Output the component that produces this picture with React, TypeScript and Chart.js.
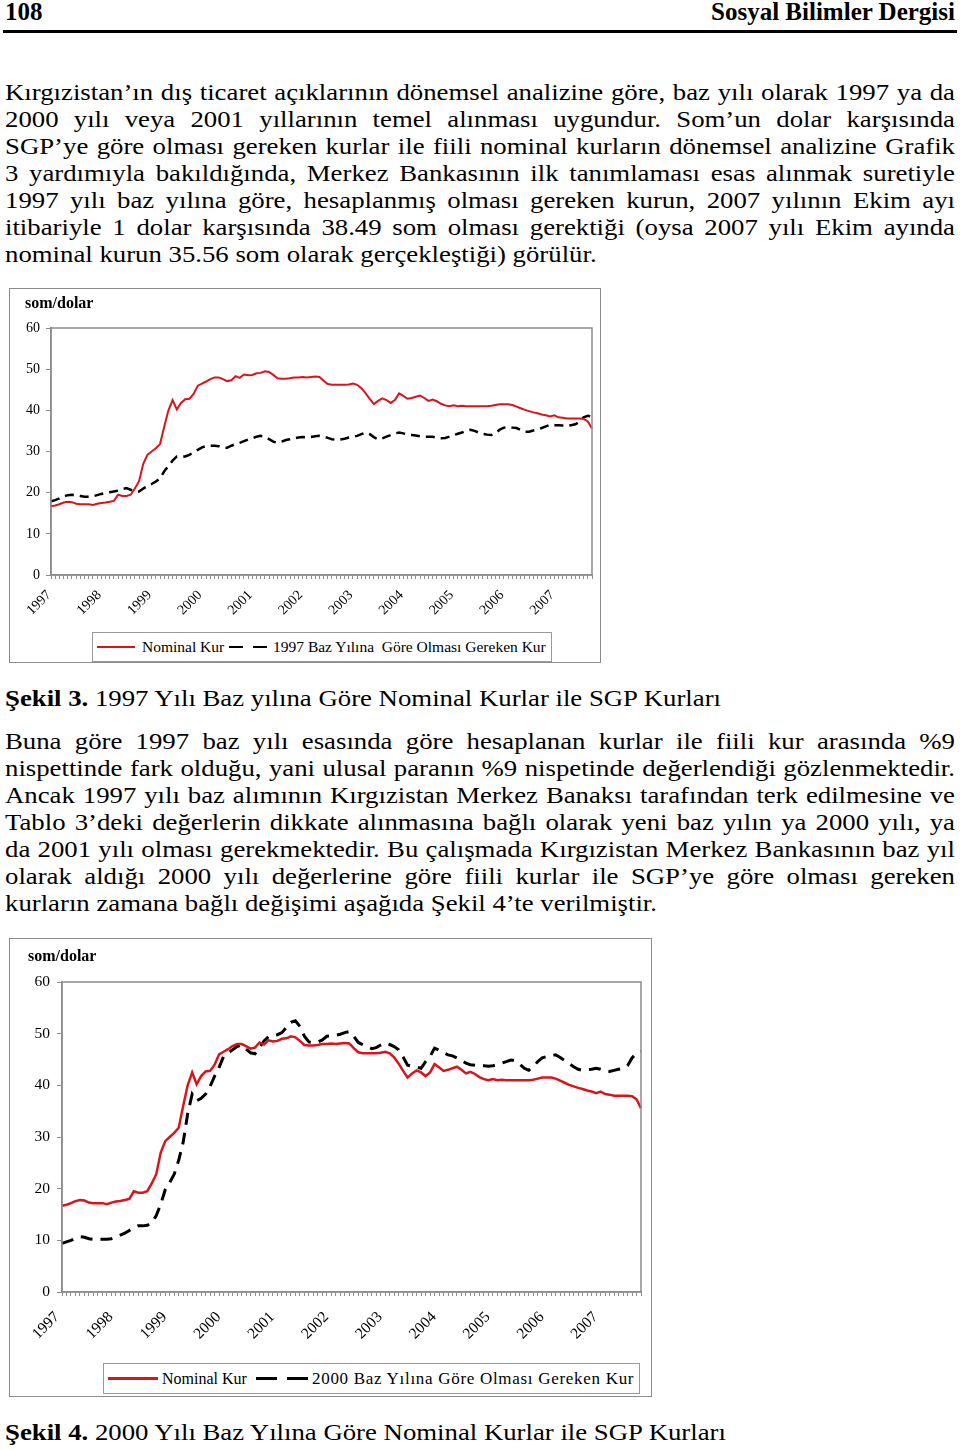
import React, { useEffect, useRef } from 'react';
import { Chart, registerables } from 'chart.js';

Chart.register(...registerables);

// ---------- data ----------
const YEARS = ['1997', '1998', '1999', '2000', '2001', '2002', '2003', '2004', '2005', '2006', '2007'];
const MONTHS = ['01', '02', '03', '04', '05', '06', '07', '08', '09', '10', '11', '12'];
const POINT_COUNT = 130; // Ocak 1997 – Ekim 2007
const MONTH_LABELS = YEARS.flatMap((y) => MONTHS.map((m) => `${y}-${m}`)).slice(0, POINT_COUNT);

const Y_MIN = 0;
const Y_MAX = 60;
const Y_STEP = 10;

const NOMINAL_KUR = [
  16.7, 16.9, 17.2, 17.6, 17.8, 17.7, 17.3, 17.2, 17.2, 17.2, 17.0, 17.3,
  17.5, 17.6, 17.8, 18.0, 19.5, 19.2, 19.2, 19.5, 21.0, 22.8, 27.0, 29.2,
  30.0, 30.8, 31.8, 36.0, 40.0, 42.5, 40.2, 41.8, 42.7, 42.8, 44.0, 46.0,
  46.5, 47.0, 47.6, 48.0, 48.0, 47.6, 47.1, 47.3, 48.3, 47.9, 48.7, 48.5,
  48.6, 49.0, 49.1, 49.5, 49.3, 48.6, 47.8, 47.7, 47.7, 47.8, 48.0, 48.0,
  48.1, 48.0, 48.1, 48.2, 48.1, 47.2, 46.4, 46.2, 46.2, 46.2, 46.2, 46.3,
  46.5, 46.2, 45.4, 44.2, 42.8, 41.5, 42.3, 42.9, 42.5, 41.8, 42.5, 44.1,
  43.5, 42.8, 43.0, 43.3, 43.6, 43.0, 42.3, 42.6, 42.2, 41.6, 41.2, 41.0,
  41.2, 41.0, 41.1, 41.0, 41.0, 41.0, 41.0, 41.0, 41.0, 41.1, 41.3, 41.5,
  41.5, 41.5, 41.3, 40.9, 40.5, 40.1, 39.8, 39.5, 39.3, 39.0, 38.8, 38.5,
  38.8, 38.3, 38.2, 38.0, 38.0, 38.0, 38.0, 37.9, 37.3, 35.56,
];

const BAZ_1997_KUR = [
  17.9, 18.2, 18.6, 19.1, 19.4, 19.5, 19.4, 19.2, 19.0, 19.0, 19.1, 19.4,
  19.7, 19.9, 20.1, 20.3, 20.5, 20.9, 21.1, 20.7, 20.3, 20.3, 21.0, 21.6,
  22.1, 22.7, 23.5, 25.2, 26.5, 27.8, 28.8, 28.8, 28.8, 29.2, 29.8, 30.4,
  31.0, 31.3, 31.4, 31.4, 31.3, 31.0, 30.9, 31.4, 31.8, 32.1, 32.5, 32.9,
  33.2, 33.6, 33.8, 33.6, 33.0, 32.4, 32.1, 32.4, 32.8, 33.0, 33.2, 33.4,
  33.5, 33.4, 33.5, 33.7, 33.8, 33.6, 33.3, 33.0, 32.9, 32.9, 33.1, 33.4,
  33.6, 33.8, 34.2, 34.6, 34.2, 33.5, 32.9, 33.2, 33.6, 34.0, 34.4, 34.6,
  34.4, 34.1, 34.0, 33.9, 33.7, 33.6, 33.6, 33.6, 33.3, 33.2, 33.3, 33.6,
  34.0, 34.3, 34.6, 35.0, 35.3, 35.0, 34.6, 34.3, 34.1, 34.0, 34.5, 35.3,
  35.8, 35.9, 35.8, 35.7, 35.2, 34.8, 34.8, 35.1, 35.4, 35.7, 36.1, 36.5,
  36.4, 36.4, 36.3, 36.2, 36.4, 36.6, 37.2, 38.3, 38.7, 38.49,
];

const BAZ_2000_KUR = [
  9.4, 9.7, 10.0, 10.4, 10.7, 10.6, 10.3, 10.2, 10.2, 10.2, 10.2, 10.3,
  10.6, 11.0, 11.4, 11.9, 12.4, 12.8, 12.8, 12.9, 13.3, 14.8, 17.0, 19.8,
  21.2, 22.8, 25.5, 29.0, 34.5, 38.3, 37.0, 37.5, 38.3, 39.8, 41.8, 43.5,
  45.6, 46.2, 46.9, 47.5, 47.8, 47.0, 46.3, 46.1, 47.3, 48.6, 49.4, 49.6,
  49.8, 50.2, 51.2, 52.2, 52.5, 51.4, 49.5, 48.4, 48.3, 48.4, 48.8, 49.5,
  49.6, 49.7, 49.9, 50.2, 50.4, 49.5, 48.3, 47.9, 47.5, 47.1, 47.3, 47.8,
  48.2, 47.9, 47.5, 46.9, 45.5, 43.9, 43.7, 43.5, 43.3, 44.6, 45.6, 47.2,
  46.8, 46.3, 45.9, 45.7, 45.3, 44.8, 44.3, 44.0, 43.9, 43.8, 43.8, 43.7,
  43.8, 44.0, 44.3, 44.6, 44.9, 44.8, 44.1, 43.3, 42.9, 43.6, 44.6, 45.3,
  45.6, 45.8, 45.9, 45.4, 44.8, 44.2, 43.6, 43.1, 42.9, 43.0, 43.1, 43.3,
  43.1, 42.8, 42.7, 42.9, 43.1, 43.3, 43.8, 45.3, 46.2, 46.6,
];

// ---------- text ----------
const HEADER_LEFT = '108';
const HEADER_RIGHT = 'Sosyal Bilimler Dergisi';

const PARAGRAPH_1 = [
  'Kırgızistan’ın dış ticaret açıklarının dönemsel analizine göre, baz yılı olarak 1997 ya da',
  '2000 yılı veya 2001 yıllarının temel alınması uygundur. Som’un dolar karşısında',
  'SGP’ye göre olması gereken kurlar ile fiili nominal kurların dönemsel analizine Grafik',
  '3 yardımıyla bakıldığında, Merkez Bankasının ilk tanımlaması esas alınmak suretiyle',
  '1997 yılı baz yılına göre, hesaplanmış olması gereken kurun, 2007 yılının Ekim ayı',
  'itibariyle 1 dolar karşısında 38.49 som olması gerektiği (oysa 2007 yılı Ekim ayında',
  'nominal kurun 35.56 som olarak gerçekleştiği) görülür.',
];

const PARAGRAPH_2 = [
  'Buna göre 1997 baz yılı esasında göre hesaplanan kurlar ile fiili kur arasında %9',
  'nispettinde fark olduğu, yani ulusal paranın %9 nispetinde değerlendiği gözlenmektedir.',
  'Ancak 1997 yılı baz alımının Kırgızistan Merkez Banaksı tarafından terk edilmesine ve',
  'Tablo 3’deki değerlerin dikkate alınmasına bağlı olarak yeni baz yılın ya 2000 yılı, ya',
  'da 2001 yılı olması gerekmektedir. Bu çalışmada Kırgızistan Merkez Bankasının baz yıl',
  'olarak aldığı 2000 yılı değerlerine göre fiili kurlar ile SGP’ye göre olması gereken',
  'kurların zamana bağlı değişimi aşağıda Şekil 4’te verilmiştir.',
];

const CAPTION_3 = ['Şekil 3.', ' 1997 Yılı Baz yılına Göre Nominal Kurlar ile SGP Kurları'];
const CAPTION_4 = ['Şekil 4.', ' 2000 Yılı Baz Yılına Göre Nominal Kurlar ile SGP Kurları'];
const AXIS_TITLE = 'som/dolar';
const LEGEND_NOMINAL = 'Nominal Kur';
const LEGEND_1997 = '1997 Baz Yılına  Göre Olması Gereken Kur';
const LEGEND_2000 = '2000 Baz Yılına Göre Olması Gereken Kur';

// ---------- styles ----------
const SERIF = "'Liberation Serif', 'Times New Roman', serif";
const RED = '#d8141c';
const SCALE_X = 1.115;
const FONT_SIZE = 24;
const LINE_H = 27;

const framePlugin = {
  id: 'frame',
  afterDraw(chart: any) {
    const { ctx, chartArea: a } = chart;
    ctx.save();
    ctx.strokeStyle = '#8c8c8c';
    ctx.lineWidth = 1.5;
    ctx.strokeRect(a.left, a.top, a.right - a.left, a.bottom - a.top);
    ctx.restore();
  },
};

function TextLine({ baseline, children, last }: { baseline: number; children: React.ReactNode; last?: boolean }) {
  const top = baseline - 21.6;
  return (
    <div
      style={{
        position: 'absolute',
        left: 5,
        top,
        width: 950 / SCALE_X,
        fontFamily: SERIF,
        fontSize: FONT_SIZE,
        lineHeight: `${LINE_H}px`,
        whiteSpace: 'nowrap',
        textAlign: last ? 'left' : 'justify',
        textAlignLast: last ? 'left' : 'justify',
        transform: `scaleX(${SCALE_X})`,
        transformOrigin: '0 0',
        color: '#000',
      } as React.CSSProperties}
    >
      {children}
    </div>
  );
}

type KurChartProps = {
  canvasW: number;
  canvasH: number;
  area: { left: number; top: number; right: number; bottom: number };
  dashed: number[];
  dashedLabel: string;
  tickFont: number;
  labelPad: number;
  labelOffset: number;
  yPad: number;
  redWidth: number;
  dashWidth: number;
  dash: number[];
};

function KurChart(p: KurChartProps) {
  const ref = useRef<HTMLCanvasElement>(null);
  useEffect(() => {
    const font = { family: SERIF, size: p.tickFont };
    const chart = new Chart(ref.current as HTMLCanvasElement, {
      type: 'line',
      data: {
        labels: MONTH_LABELS,
        datasets: [
          {
            label: LEGEND_NOMINAL,
            data: NOMINAL_KUR,
            borderColor: RED,
            backgroundColor: RED,
            borderWidth: p.redWidth,
            pointRadius: 0,
            tension: 0,
          },
          {
            label: p.dashedLabel,
            data: p.dashed,
            borderColor: '#000',
            backgroundColor: '#000',
            borderWidth: p.dashWidth,
            borderDash: p.dash,
            pointRadius: 0,
            tension: 0,
          },
        ],
      },
      options: {
        animation: false,
        responsive: false,
        devicePixelRatio: 1,
        layout: { padding: { left: 0, top: p.area.top, right: p.canvasW - p.area.right, bottom: 0 } },
        plugins: { legend: { display: false }, tooltip: { enabled: false }, title: { display: false } },
        scales: {
          x: {
            type: 'category',
            offset: false,
            grid: { display: true, drawOnChartArea: false, drawTicks: true, tickLength: 4, tickColor: '#8c8c8c', color: '#8c8c8c' },
            border: { display: true, color: '#8c8c8c', width: 1.5 },
            ticks: {
              autoSkip: false,
              minRotation: 45,
              maxRotation: 45,
              padding: p.labelPad,
              labelOffset: p.labelOffset,
              color: '#000',
              font,
              callback: (_v: any, i: number) => (i % 12 === 0 ? YEARS[i / 12] : ''),
            },
            afterFit: (s: any) => {
              s.height = p.canvasH - p.area.bottom;
              s.paddingLeft = 0;
              s.paddingRight = 0;
            },
          },
          y: {
            min: Y_MIN,
            max: Y_MAX,
            grid: { display: true, drawOnChartArea: false, drawTicks: true, tickLength: 5, tickColor: '#8c8c8c', color: '#8c8c8c' },
            border: { display: true, color: '#8c8c8c', width: 1.5 },
            ticks: { stepSize: Y_STEP, padding: p.yPad, color: '#000', font },
            afterFit: (s: any) => {
              s.width = p.area.left;
              s.paddingTop = 0;
              s.paddingBottom = 0;
            },
          },
        },
      } as any,
      plugins: [framePlugin],
    });
    return () => chart.destroy();
  }, []);
  return (
    <canvas
      ref={ref}
      width={p.canvasW}
      height={p.canvasH}
      style={{ position: 'absolute', left: 0, top: 0, width: p.canvasW, height: p.canvasH }}
    />
  );
}

function Seg({ left, width, color, thick }: { left: number; width: number; color: string; thick: number }) {
  return (
    <div
      style={{
        position: 'absolute',
        left,
        top: '50%',
        width,
        height: thick,
        marginTop: -thick / 2,
        background: color,
      }}
    />
  );
}

function LegendText({ left, size, children, spacing }: { left: number; size: number; children: React.ReactNode; spacing?: number }) {
  return (
    <div
      style={{
        position: 'absolute',
        left,
        top: 0,
        bottom: 0,
        display: 'flex',
        alignItems: 'center',
        fontFamily: SERIF,
        fontSize: size,
        whiteSpace: 'pre',
        letterSpacing: spacing || 0,
        color: '#000',
      }}
    >
      {children}
    </div>
  );
}

export default function App() {
  return (
    <div style={{ position: 'absolute', left: 0, top: 0, width: 960, height: 1450, background: '#fff', overflow: 'hidden' }}>
      {/* header */}
      <div style={{ position: 'absolute', left: 5, top: -1, fontFamily: SERIF, fontWeight: 'bold', fontSize: 25, lineHeight: '25px' }}>
        {HEADER_LEFT}
      </div>
      <div style={{ position: 'absolute', right: 5, top: -1, fontFamily: SERIF, fontWeight: 'bold', fontSize: 25, lineHeight: '25px' }}>
        {HEADER_RIGHT}
      </div>
      <div style={{ position: 'absolute', left: 3, top: 30, width: 954, height: 3, background: '#000' }} />

      {/* paragraph 1 */}
      {PARAGRAPH_1.map((t, i) => (
        <TextLine key={'p1' + i} baseline={100.5 + i * LINE_H} last={i === PARAGRAPH_1.length - 1}>
          {t}
        </TextLine>
      ))}

      {/* chart 1 */}
      <div style={{ position: 'absolute', left: 9, top: 288, width: 592, height: 375, border: '1px solid #8c8c8c', boxSizing: 'border-box' }}>
        <KurChart
          canvasW={590}
          canvasH={373}
          area={{ left: 41, top: 39, right: 582, bottom: 286 }}
          dashed={BAZ_1997_KUR}
          dashedLabel={LEGEND_1997}
          tickFont={14}
          labelPad={8}
          labelOffset={-2}
          yPad={6}
          redWidth={2}
          dashWidth={2.5}
          dash={[9, 6]}
        />
        <div style={{ position: 'absolute', left: 15, top: 5, fontFamily: SERIF, fontWeight: 'bold', fontSize: 16, lineHeight: '18px' }}>
          {AXIS_TITLE}
        </div>
        <div style={{ position: 'absolute', left: 82, top: 343, width: 460, height: 30, border: '1px solid #9a9a9a', boxSizing: 'border-box', background: '#fff' }}>
          <Seg left={4} width={38} color={RED} thick={2.5} />
          <LegendText left={49} size={15.5}>{LEGEND_NOMINAL}</LegendText>
          <Seg left={136} width={14} color="#000" thick={2.5} />
          <Seg left={160} width={14} color="#000" thick={2.5} />
          <LegendText left={180} size={15.5}>{LEGEND_1997}</LegendText>
        </div>
      </div>

      {/* caption 3 */}
      <TextLine baseline={707} last>
        <b>{CAPTION_3[0]}</b>
        {CAPTION_3[1]}
      </TextLine>

      {/* paragraph 2 */}
      {PARAGRAPH_2.map((t, i) => (
        <TextLine key={'p2' + i} baseline={749.5 + i * LINE_H} last={i === PARAGRAPH_2.length - 1}>
          {t}
        </TextLine>
      ))}

      {/* chart 2 */}
      <div style={{ position: 'absolute', left: 9, top: 938, width: 643, height: 459, border: '1px solid #8c8c8c', boxSizing: 'border-box' }}>
        <KurChart
          canvasW={641}
          canvasH={457}
          area={{ left: 52, top: 43, right: 631, bottom: 353 }}
          dashed={BAZ_2000_KUR}
          dashedLabel={LEGEND_2000}
          tickFont={15.5}
          labelPad={12}
          labelOffset={-5}
          yPad={7}
          redWidth={2.5}
          dashWidth={3}
          dash={[12, 8]}
        />
        <div style={{ position: 'absolute', left: 18, top: 8, fontFamily: SERIF, fontWeight: 'bold', fontSize: 16, lineHeight: '18px' }}>
          {AXIS_TITLE}
        </div>
        <div style={{ position: 'absolute', left: 93, top: 424, width: 537, height: 31, border: '1px solid #9a9a9a', boxSizing: 'border-box', background: '#fff' }}>
          <Seg left={4} width={50} color={RED} thick={3} />
          <LegendText left={58} size={16}>{LEGEND_NOMINAL}</LegendText>
          <Seg left={152} width={21} color="#000" thick={3} />
          <Seg left={183} width={21} color="#000" thick={3} />
          <LegendText left={208} size={17} spacing={0.7}>{LEGEND_2000}</LegendText>
        </div>
      </div>

      {/* caption 4 */}
      <TextLine baseline={1441} last>
        <b>{CAPTION_4[0]}</b>
        {CAPTION_4[1]}
      </TextLine>
    </div>
  );
}
